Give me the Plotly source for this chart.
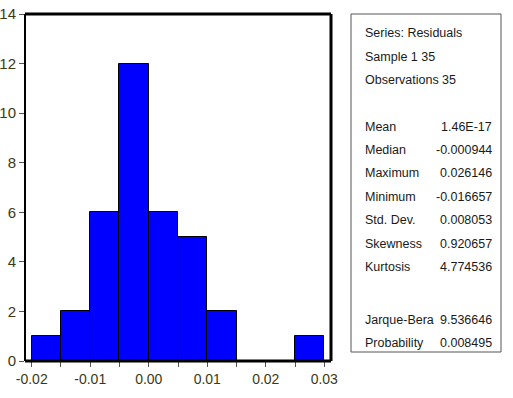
import plotly.graph_objects as go

# ---- data ----
bin_left_edges = [-0.020, -0.015, -0.010, -0.005, 0.000, 0.005, 0.010, 0.015, 0.020, 0.025]
bin_width = 0.005
counts = [1, 2, 6, 12, 6, 5, 2, 0, 0, 1]

header_lines = ["Series: Residuals", "Sample 1 35", "Observations 35"]
stat_names = ["Mean", "Median", "Maximum", "Minimum", "Std. Dev.", "Skewness", "Kurtosis"]
stat_values = ["1.46E-17", "-0.000944", "0.026146", "-0.016657", "0.008053", "0.920657", "4.774536"]
test_names = ["Jarque-Bera", "Probability"]
test_values = ["9.536646", "0.008495"]

x_tickvals = [-0.02, -0.01, 0.00, 0.01, 0.02, 0.03]
x_ticktext = ["-0.02", "-0.01", "0.00", "0.01", "0.02", "0.03"]
y_tickvals = [0, 2, 4, 6, 8, 10, 12, 14]

# ---- figure ----
W, H = 513, 398
L, R, T, B = 25, 182, 14, 37
pw, ph = W - L - R, H - T - B

FONT = "Liberation Sans, Arial, sans-serif"
TICKCOL = "#3a3a14"

centers = [e + bin_width / 2 for e in bin_left_edges]

fig = go.Figure(go.Bar(
    x=centers, y=counts, width=[bin_width] * len(counts),
    marker=dict(color="#0000FF", line=dict(color="black", width=1)),
    hoverinfo="skip",
))

def px2x(px):
    return (px - L) / pw

def py2y(py):
    return (H - B - py) / ph

shapes = [
    dict(type="line", xref="paper", yref="paper", x0=0, x1=1, y0=1, y1=1,
         line=dict(color="black", width=3)),
    dict(type="line", xref="paper", yref="paper", x0=1, x1=1, y0=0, y1=1,
         line=dict(color="black", width=3)),
    dict(type="line", xref="paper", yref="paper", x0=0, x1=1, y0=0, y1=0,
         line=dict(color="black", width=3)),
    dict(type="line", xref="paper", yref="paper", x0=0, x1=0, y0=0, y1=1,
         line=dict(color="black", width=2)),
    dict(type="rect", xref="paper", yref="paper",
         x0=px2x(351), x1=px2x(501), y0=py2y(352), y1=py2y(14),
         line=dict(color="#555555", width=1), fillcolor="white"),
]

annotations = []
xl, xr = px2x(363), px2x(494)
header_y = [33, 57, 80]
stat_y = [127, 150, 173, 197, 220, 244, 267]
test_y = [320, 343]
tf = dict(family=FONT, size=12.5, color="#1a1a1a")
for t, yy in zip(header_lines, header_y):
    annotations.append(dict(x=xl, y=py2y(yy), xref="paper", yref="paper", text=t,
                            showarrow=False, xanchor="left", yanchor="middle", font=tf))
for n, v, yy in zip(stat_names + test_names, stat_values + test_values, stat_y + test_y):
    annotations.append(dict(x=xl, y=py2y(yy), xref="paper", yref="paper", text=n,
                            showarrow=False, xanchor="left", yanchor="middle", font=tf))
    annotations.append(dict(x=xr, y=py2y(yy), xref="paper", yref="paper", text=v,
                            showarrow=False, xanchor="right", yanchor="middle", font=tf))

fig.update_layout(
    width=W, height=H,
    margin=dict(l=L, r=R, t=T, b=B, pad=0, autoexpand=False),
    paper_bgcolor="white", plot_bgcolor="white",
    showlegend=False, bargap=0,
    shapes=shapes, annotations=annotations,
    xaxis=dict(range=[-0.02115, 0.03115], tickvals=x_tickvals, ticktext=x_ticktext,
               ticks="outside", ticklen=5, tickcolor="#555555", showgrid=False,
               zeroline=False, showline=False, automargin=False,
               tickfont=dict(family=FONT, size=14, color=TICKCOL),
               minor=dict(dtick=0.005, tick0=0, ticks="outside", ticklen=5,
                          tickcolor="#555555", showgrid=False)),
    yaxis=dict(range=[0, 14], tickvals=y_tickvals, ticks="outside", ticklen=5,
               tickcolor="#555555", showgrid=False, zeroline=False, showline=False,
               automargin=False,
               tickfont=dict(family=FONT, size=15, color=TICKCOL)),
)

fig.write_html("out.html", config={"displayModeBar": False},
               post_script="document.body.style.margin='0';document.body.style.overflow='hidden';")
